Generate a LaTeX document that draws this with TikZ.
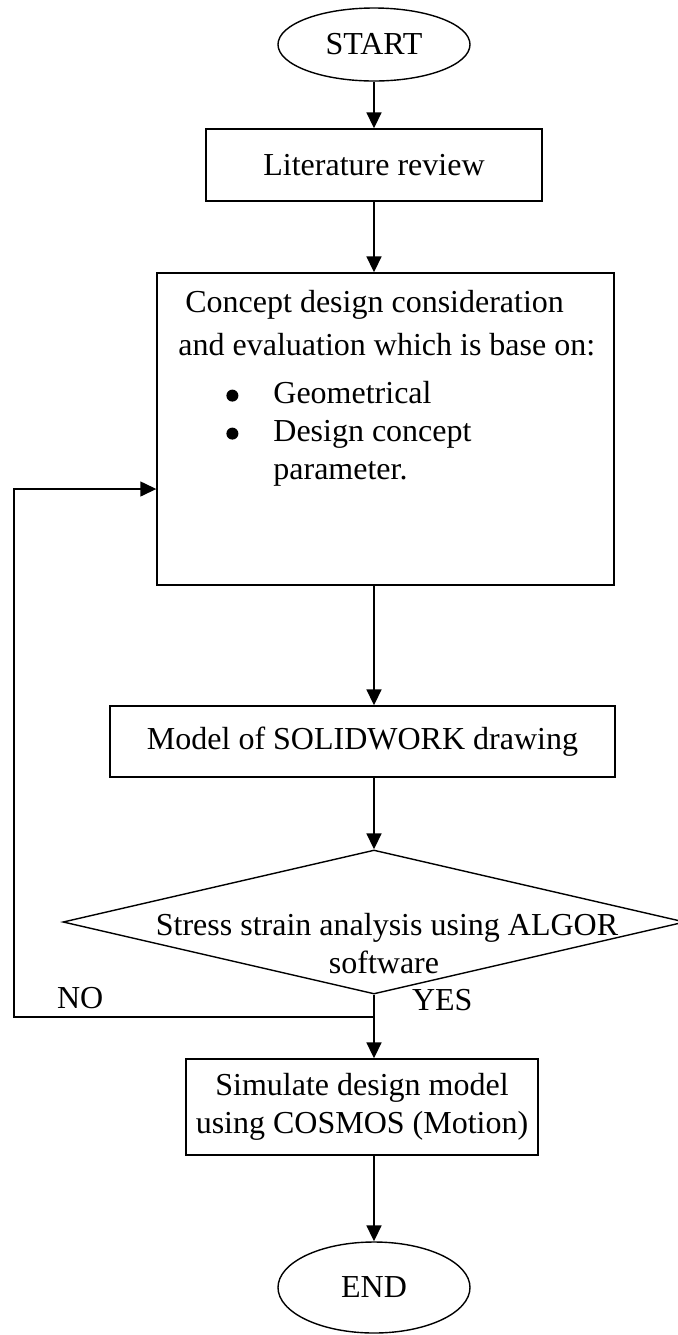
\documentclass[tikz,border=0pt]{standalone}
\usepackage{fontspec}
\setmainfont{Liberation Serif}
\usetikzlibrary{arrows.meta,shapes.geometric}

\newcommand{\bulitem}{\makebox[47.5pt][l]{\hspace{24pt}\raisebox{1pt}{\tikz\fill (0,0) circle (3pt);}}}

\begin{document}
\begin{tikzpicture}[x=0.5pt,y=-0.5pt,font=\fontsize{16}{19}\selectfont,
  box/.style={draw,line width=0.7pt,inner sep=0pt},
  term/.style={draw,ellipse,line width=0.7pt,minimum width=96pt,inner sep=0pt},
  flow/.style={-{Triangle[width=7.5pt,length=8pt]},line width=0.9pt},
  back/.style={line width=0.7pt}]
  \useasboundingbox (0,0) rectangle (678,1335);
  % terminals and boxes
  \node[term,minimum height=36.5pt] (start) at (374,44.5) {START};
  \node[box,minimum width=168pt,minimum height=36pt] (lit) at (374,165) {Literature review};
  \node[box,minimum width=228.5pt,minimum height=156pt] (con) at (385.5,429) {};
  \node[anchor=north west,inner sep=0pt,align=left] (contxt) at (178,290)
    {\hspace{3.5pt}Concept design consideration\\[2.5pt]
     and evaluation which is base on:\\[5pt]
     \bulitem Geometrical\\
     \bulitem Design concept\\
     \makebox[47.5pt][l]{}parameter.};
  \node[box,minimum width=252.5pt,minimum height=35.5pt] (mod) at (362.5,741.5) {Model of SOLIDWORK drawing};
  \node[draw,diamond,line width=0.7pt,minimum width=311pt,minimum height=72pt,inner sep=0pt] (dec) at (374,922) {};
  \node[anchor=base] (dec1) at (387,935) {Stress strain analysis using ALGOR};
  \node[anchor=base] (dec2) at (384,973) {software};
  \node[box,minimum width=176pt,minimum height=48pt,align=center] (sim) at (362,1107)
    {Simulate design model\\using COSMOS (Motion)};
  \node[term,minimum height=45.5pt] (end) at (374,1287.5) {END};
  % connectors
  \draw[flow] (start) -- (lit);
  \draw[flow] (lit.south) -- (lit.south |- con.north);
  \draw[flow] (lit.south |- con.south) -- (lit.south |- mod.north);
  \draw[flow] (dec.north |- mod.south) -- (dec.north);
  \draw[flow] (dec.south) -- (dec.south |- sim.north);
  \draw[flow] (dec.south |- sim.south) -- (end);
  % loop back on NO
  \coordinate (jn) at (374,1017);
  \coordinate (lo) at (14,1017);
  \coordinate (hi) at (14,489);
  \draw[back,-{Triangle[width=7.5pt,length=8pt]}] (jn) -- (lo) -- (hi) -- (hi -| con.west);
  \node[anchor=base west] (no) at (50,1008) {NO};
  \node[anchor=base west] (yes) at (405,1010) {YES};
\end{tikzpicture}
\end{document}
